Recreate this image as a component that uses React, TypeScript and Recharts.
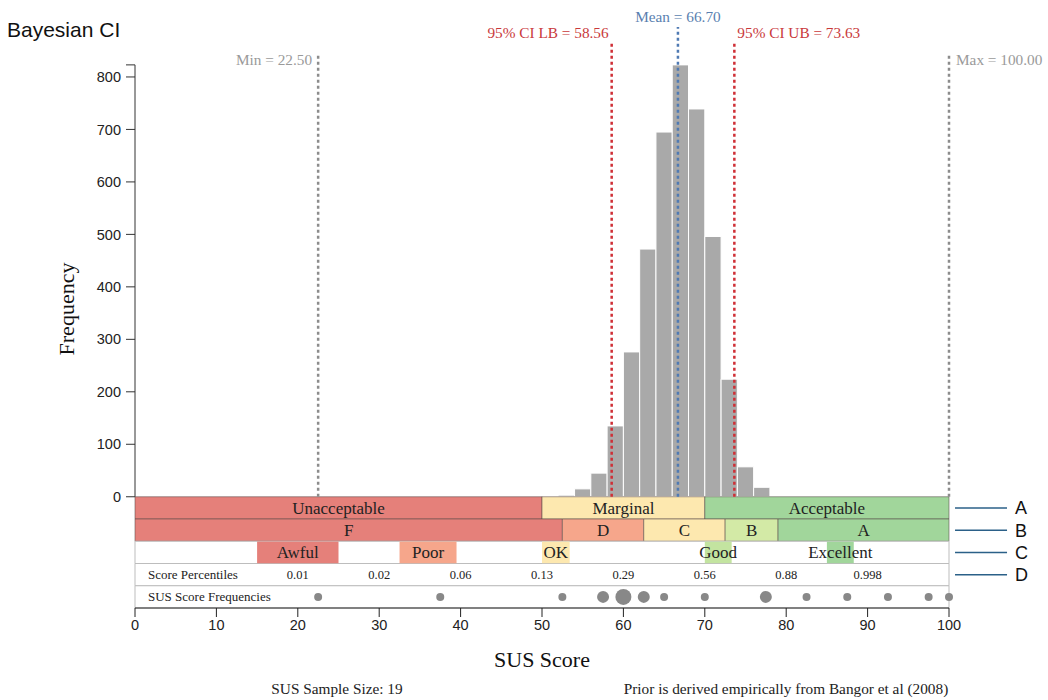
import React from 'react';
import {
  ComposedChart,
  XAxis,
  YAxis,
  Scatter,
  ReferenceArea,
  ReferenceLine,
  ReferenceDot,
} from 'recharts';

const SERIF = '"Liberation Serif", "Times New Roman", serif';
const SANS = '"Liberation Sans", Arial, sans-serif';

// posterior histogram, 2-point bins
const binStarts = [52, 54, 56, 58, 60, 62, 64, 66, 68, 70, 72, 74, 76];
const binCounts = [3, 15, 45, 135, 276, 472, 695, 823, 739, 496, 224, 57, 18];
const BIN_WIDTH = 2;
const MAX_FREQ = 823;

const xTicks = [0, 10, 20, 30, 40, 50, 60, 70, 80, 90, 100];
const yTicks = [0, 100, 200, 300, 400, 500, 600, 700, 800, MAX_FREQ];

// summary stats
const MIN_SCORE = 22.5;
const MAX_SCORE = 100;
const MEAN = 66.7;
const CI_LB = 58.56;
const CI_UB = 73.63;

// row A: acceptability
const acceptNames = ['Unacceptable', 'Marginal', 'Acceptable'];
const acceptEdges = [0, 50, 70, 100];
const acceptColors = ['#e5807a', '#fde8af', '#a1d69b'];

// row B: grade scale
const gradeNames = ['F', 'D', 'C', 'B', 'A'];
const gradeEdges = [0, 52.5, 62.5, 72.5, 79, 100];
const gradeColors = ['#e5807a', '#f6a68b', '#fde8af', '#d3eaa6', '#a1d69b'];

// row C: adjective ratings
const adjNames = ['Awful', 'Poor', 'OK', 'Good', 'Excellent'];
const adjFrom = [15, 32.5, 50, 70, 85];
const adjTo = [25, 39.5, 53.4, 73.3, 88.3];
const adjColors = ['#e5807a', '#f6a68b', '#fde8af', '#c3e4a0', '#a1d69b'];

// row D: percentiles
const pctScores = [20, 30, 40, 50, 60, 70, 80, 90];
const pctLabels = ['0.01', '0.02', '0.06', '0.13', '0.29', '0.56', '0.88', '0.998'];

// row E: observed sample
const sampleScores = [22.5, 37.5, 52.5, 57.5, 60, 62.5, 65, 70, 77.5, 82.5, 87.5, 92.5, 97.5, 100];
const sampleCounts = [1, 1, 1, 2, 3, 2, 1, 1, 2, 1, 1, 1, 1, 1];

const rowKeys = ['A', 'B', 'C', 'D'];

const ROW = 42.4;
const Y_MIN = -5 * ROW;
const Y_MAX = 927.6;
const rowTop = (i: number) => -i * ROW;
const rowBot = (i: number) => -(i + 1) * ROW;
const rowMid = (i: number) => -(i + 0.5) * ROW;

const sampleData = sampleScores.map((x, i) => ({ x, y: rowMid(4), n: sampleCounts[i] }));

const CI_RED = '#cf2f36';
const MEAN_BLUE = '#4f7ab3';
const GRAY = '#8c8c8c';

const serifLabel = (value: string, position: any, fill: string, extra: any = {}) => ({
  value,
  position,
  fill,
  fontSize: 15.3,
  fontFamily: SERIF,
  ...extra,
});

function SampleDot(props: any) {
  const { cx, cy, payload } = props;
  return <circle cx={cx} cy={cy} r={2 + 2 * payload.n} fill="#888" />;
}

export default function App() {
  return (
    <div style={{ position: 'absolute', left: 0, top: 0, width: 1048, height: 700, background: '#fff' }}>
      <div style={{ position: 'absolute', left: 7, top: 18, fontFamily: SANS, fontSize: 21, color: '#111' }}>
        Bayesian CI
      </div>
      <ComposedChart width={1048} height={700} margin={{ top: 10, right: 99, bottom: 30, left: 55 }}>
        <XAxis
          type="number"
          dataKey="x"
          domain={[0, 100]}
          ticks={xTicks}
          interval={0}
          tickSize={9}
          tickMargin={3}
          height={62}
          stroke="#222"
          tick={{ fill: '#222', fontSize: 14.5, fontFamily: SANS }}
          label={{ value: 'SUS Score', position: 'insideBottom', offset: 3, fontSize: 22, fontFamily: SERIF, fill: '#111' }}
        />
        <YAxis
          type="number"
          dataKey="y"
          domain={[Y_MIN, Y_MAX]}
          allowDataOverflow
          ticks={yTicks}
          interval={0}
          tickFormatter={(v: number) => (v === MAX_FREQ ? '' : String(v))}
          tickSize={9}
          tickMargin={5}
          width={80}
          axisLine={false}
          tickLine={{ stroke: '#333' }}
          tick={{ fill: '#222', fontSize: 14.5, fontFamily: SANS }}
          label={{
            value: 'Frequency',
            angle: -90,
            position: 'insideLeft',
            offset: 11,
            style: { textAnchor: 'middle' },
            fontSize: 22,
            fontFamily: SERIF,
            fill: '#111',
          }}
        />

        {/* histogram */}
        {binStarts.map((b, i) => (
          <ReferenceArea
            key={'bin' + b}
            x1={b}
            x2={b + BIN_WIDTH}
            y1={0}
            y2={binCounts[i]}
            fill="#a9a9a9"
            fillOpacity={1}
            stroke="#fff"
            strokeWidth={1}
          />
        ))}

        {/* y axis domain line */}
        <ReferenceLine segment={[{ x: 0, y: 0 }, { x: 0, y: MAX_FREQ }]} stroke="#333" strokeWidth={1} />

        {/* row A */}
        {acceptNames.map((n, i) => (
          <ReferenceArea
            key={'acc' + n}
            x1={acceptEdges[i]}
            x2={acceptEdges[i + 1]}
            y1={rowBot(0)}
            y2={rowTop(0)}
            fill={acceptColors[i]}
            fillOpacity={1}
            stroke="#5a4a48"
            strokeOpacity={0.55}
            label={{ value: n, position: 'center', fill: '#222', fontSize: 17, fontFamily: SERIF }}
          />
        ))}
        {/* row B */}
        {gradeNames.map((n, i) => (
          <ReferenceArea
            key={'gr' + n}
            x1={gradeEdges[i]}
            x2={gradeEdges[i + 1]}
            y1={rowBot(1)}
            y2={rowTop(1)}
            fill={gradeColors[i]}
            fillOpacity={1}
            stroke="#5a4a48"
            strokeOpacity={0.55}
            label={{ value: n, position: 'center', fill: '#222', fontSize: 17, fontFamily: SERIF }}
          />
        ))}
        {/* rows C-E frames */}
        {[2, 3, 4].map((r) => (
          <ReferenceArea
            key={'frame' + r}
            x1={0}
            x2={100}
            y1={rowBot(r)}
            y2={rowTop(r)}
            fill="#fff"
            fillOpacity={1}
            stroke="#bdbdbd"
            label={
              r === 3
                ? { value: 'Score Percentiles', position: 'insideLeft', offset: 13, fill: '#222', fontSize: 13, fontFamily: SERIF }
                : r === 4
                ? { value: 'SUS Score Frequencies', position: 'insideLeft', offset: 13, fill: '#222', fontSize: 13, fontFamily: SERIF }
                : undefined
            }
          />
        ))}
        {/* row C */}
        {adjNames.map((n, i) => (
          <ReferenceArea
            key={'adj' + n}
            x1={adjFrom[i]}
            x2={adjTo[i]}
            y1={rowBot(2) + 0.6}
            y2={rowTop(2) - 0.6}
            fill={adjColors[i]}
            fillOpacity={1}
            stroke="none"
            label={{ value: n, position: 'center', fill: '#222', fontSize: 17, fontFamily: SERIF }}
          />
        ))}
        {/* row D */}
        {pctScores.map((s, i) => (
          <ReferenceDot
            key={'pct' + s}
            x={s}
            y={rowMid(3)}
            r={0}
            fill="none"
            stroke="none"
            label={{ value: pctLabels[i], position: 'center', fill: '#222', fontSize: 12.5, fontFamily: SERIF }}
          />
        ))}

        {/* summary lines */}
        <ReferenceLine segment={[{ x: MIN_SCORE, y: 0 }, { x: MIN_SCORE, y: 842 }]} stroke={GRAY} strokeWidth={2.5} strokeDasharray="3 3" />
        <ReferenceLine segment={[{ x: MAX_SCORE, y: 0 }, { x: MAX_SCORE, y: 842 }]} stroke={GRAY} strokeWidth={2.5} strokeDasharray="3 3" />
        <ReferenceLine segment={[{ x: CI_LB, y: 0 }, { x: CI_LB, y: 867 }]} stroke={CI_RED} strokeWidth={2.5} strokeDasharray="3 3" />
        <ReferenceLine segment={[{ x: CI_UB, y: 0 }, { x: CI_UB, y: 867 }]} stroke={CI_RED} strokeWidth={2.5} strokeDasharray="3 3" />
        <ReferenceLine segment={[{ x: MEAN, y: 0 }, { x: MEAN, y: 895 }]} stroke={MEAN_BLUE} strokeWidth={2.5} strokeDasharray="3 3" />

        <ReferenceDot x={MIN_SCORE} y={834} r={0} fill="none" stroke="none" ifOverflow="visible"
          label={serifLabel(`Min = ${MIN_SCORE.toFixed(2)}`, 'left', '#9a9a9a', { offset: 6 })} />
        <ReferenceDot x={MAX_SCORE} y={834} r={0} fill="none" stroke="none" ifOverflow="visible"
          label={serifLabel(`Max = ${MAX_SCORE.toFixed(2)}`, 'right', '#9a9a9a', { offset: 7 })} />
        <ReferenceDot x={CI_LB} y={884} r={0} fill="none" stroke="none" ifOverflow="visible"
          label={serifLabel(`95% CI LB = ${CI_LB.toFixed(2)}`, 'left', '#c9393b', { offset: 3 })} />
        <ReferenceDot x={CI_UB} y={884} r={0} fill="none" stroke="none" ifOverflow="visible"
          label={serifLabel(`95% CI UB = ${CI_UB.toFixed(2)}`, 'right', '#c9393b', { offset: 3 })} />
        <ReferenceDot x={MEAN} y={916} r={0} fill="none" stroke="none" ifOverflow="visible"
          label={serifLabel(`Mean = ${MEAN.toFixed(2)}`, 'center', '#5a7fb0')} />

        {/* right-hand row keys */}
        {rowKeys.map((k, i) => (
          <ReferenceLine
            key={'keyline' + k}
            segment={[{ x: 100.74, y: rowMid(i) }, { x: 107.13, y: rowMid(i) }]}
            stroke="#2b6088"
            strokeWidth={1.5}
            ifOverflow="visible"
          />
        ))}
        {rowKeys.map((k, i) => (
          <ReferenceDot
            key={'keylbl' + k}
            x={107.13}
            y={rowMid(i)}
            r={0}
            fill="none"
            stroke="none"
            ifOverflow="visible"
            label={{ value: k, position: 'right', offset: 8, fill: '#111', fontSize: 18, fontFamily: SANS }}
          />
        ))}

        <Scatter data={sampleData} shape={<SampleDot />} isAnimationActive={false} />
      </ComposedChart>
      <div style={{ position: 'absolute', left: 187, width: 300, top: 680, textAlign: 'center', fontFamily: SERIF, fontSize: 15.3, color: '#222' }}>
        SUS Sample Size: 19
      </div>
      <div style={{ position: 'absolute', left: 586, width: 400, top: 680, textAlign: 'center', fontFamily: SERIF, fontSize: 15.3, color: '#222' }}>
        Prior is derived empirically from Bangor et al (2008)
      </div>
    </div>
  );
}
